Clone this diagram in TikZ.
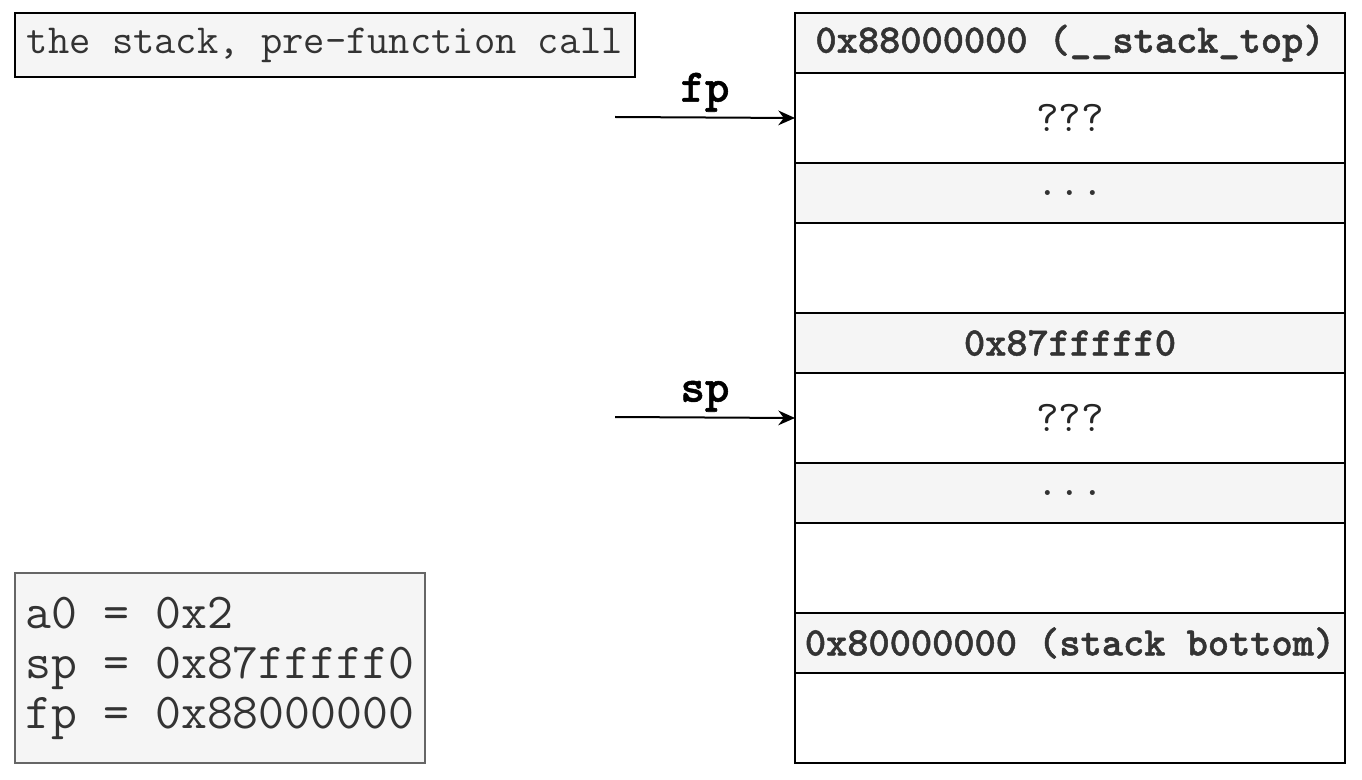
\documentclass[tikz,border=0pt]{standalone}
\usepackage{fontspec}
\newfontfamily\heavytt{lmmonolt10-bold.otf}[FakeBold=1.2]
\usepackage{tikz}
\usetikzlibrary{positioning,arrows.meta}
\definecolor{cellgray}{HTML}{F5F5F5}
\definecolor{txtgray}{HTML}{333333}
\definecolor{boxgray}{HTML}{666666}
\newcommand{\ttsize}[2]{\ttfamily\fontsize{#1}{#2}\selectfont}
\newcommand{\heavysize}[2]{\heavytt\fontsize{#1}{#2}\selectfont}

\begin{document}
\begin{tikzpicture}[x=0.75pt, y=-0.75pt,
  every node/.style = {font=\ttfamily, outer sep=0pt},
  cell/.style = {draw, line width=1.5pt, minimum width=412.5pt, inner sep=0pt},
  addr/.style = {cell, fill=cellgray, minimum height=45pt, text=txtgray,
    font=\heavysize{30.3}{34}},
  slot/.style = {cell, fill=white, minimum height=67.5pt, text=black!85,
    font=\ttsize{33}{36}},
  gap/.style = {cell, fill=cellgray, minimum height=45pt, text=txtgray,
    font=\ttsize{33}{36}},
  free/.style = {cell, fill=white, minimum height=67.5pt},
  ptr/.style = {line width=1.5pt, -{Stealth[length=12.5pt, width=11pt]}},
  ptrlabel/.style = {font=\heavysize{35}{38}}]
  \useasboundingbox (0,0) rectangle (1362,780);

  % caption and register values
  \node[draw, line width=1.5pt, fill=cellgray, text=txtgray,
    minimum width=465pt, minimum height=48pt,
    font=\ttsize{31}{34}] (title) at (325,45)
    {the stack, pre-function call};
  \node[draw=boxgray, line width=1.5pt, fill=cellgray, text=txtgray,
    anchor=west, minimum width=307.5pt, minimum height=142.5pt,
    inner xsep=5.25pt, inner ysep=0pt,
    align=left, font=\ttsize{37.7}{37.5}] (regs) at (15,668)
    {a0 = 0x2\\sp = 0x87fffff0\\fp = 0x88000000};

  % the stack, top to bottom
  \node[addr] (top) at (1070,43) {0x88000000 (\_\_stack\_top)};
  \node[slot, below=0pt of top] (fpslot) {???};
  \node[gap, below=0pt of fpslot] (dotsa) {...};
  \node[free, below=0pt of dotsa] (freea) {};
  \node[addr, below=0pt of freea] (spaddr) {0x87fffff0};
  \node[slot, below=0pt of spaddr] (spslot) {???};
  \node[gap, below=0pt of spslot] (dotsb) {...};
  \node[free, below=0pt of dotsb] (freeb) {};
  \node[addr, below=0pt of freeb] (bottom) {0x80000000 (stack bottom)};
  \node[free, below=0pt of bottom] (last) {};

  % pointers
  \coordinate (fpfrom) at (615,117);
  \coordinate (spfrom) at (615,417);
  \draw[ptr] (fpfrom) -- (fpslot.west) node[ptrlabel, midway, above=1pt] (fp) {fp};
  \draw[ptr] (spfrom) -- (spslot.west) node[ptrlabel, midway, above=1pt] (sp) {sp};
\end{tikzpicture}
\end{document}
